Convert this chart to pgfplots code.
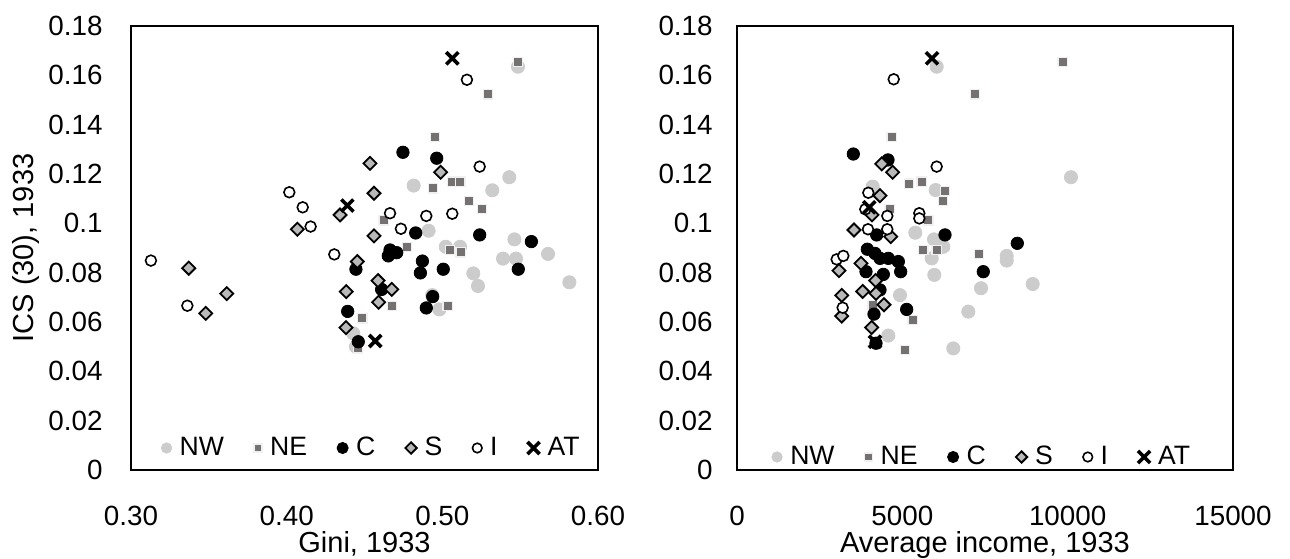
\documentclass[border=0pt]{standalone}
\usepackage{fontspec}
\setmainfont{Liberation Sans}
\usepackage{pgfplots}
\pgfplotsset{compat=1.18}

\definecolor{nwc}{RGB}{204,204,204}
\definecolor{nec}{RGB}{118,113,113}
\definecolor{nee}{RGB}{240,240,240}
\definecolor{sc}{RGB}{185,185,185}

\pgfplotsset{
  nw/.style={only marks, mark=*, mark size=3.3pt, mark options={fill=nwc, draw=nwc},
    legend image post style={mark size=2.6pt}},
  ne/.style={only marks, mark=square*, mark size=2.3pt, mark options={fill=nec, draw=nee, line width=0.6pt},
    legend image post style={mark size=2pt}},
  cc/.style={only marks, mark=*, mark size=3.1pt, mark options={fill=black, draw=black},
    legend image post style={mark size=2.8pt}},
  ss/.style={only marks, mark=square*, mark size=2.3pt, mark options={rotate=45, fill=sc, draw=black, line width=0.9pt},
    legend image post style={mark size=2pt}},
  ii/.style={only marks, mark=*, mark size=2.7pt, mark options={fill=white, draw=black, line width=0.8pt},
    legend image post style={mark size=2.4pt}},
  at/.style={only marks, mark=x, mark size=4.3pt, mark options={draw=black, line width=1.8pt},
    legend image post style={mark size=4.3pt}},
  common/.style={
    scale only axis, height=222pt,
    ymin=0, ymax=0.18,
    ytick={0,0.02,0.04,0.06,0.08,0.1,0.12,0.14,0.16,0.18},
    axis line style={line width=0.8pt},
    tick style={draw=none},
    tick label style={font=\fontsize{13.9}{16}\selectfont},
    label style={font=\fontsize{14.5}{17}\selectfont},
    xticklabel style={anchor=base, inner sep=0pt, yshift=-27.5pt},
    yticklabel style={anchor=east, inner sep=0pt,
      /pgf/number format/fixed, /pgf/number format/precision=2,
      /pgf/number format/assume math mode=true},
    xlabel style={at={(axis description cs:0.5,-0.1847)}, anchor=base},
    legend columns=6,
    legend image code/.code={\draw[##1] plot coordinates {(0pt,0pt)};},
    legend style={draw=none, fill=none, inner sep=0pt,
      font=\fontsize{13.3}{15}\selectfont,
      nodes={inner xsep=4pt, inner ysep=0pt},
      /tikz/every even column/.append style={column sep=11pt}},
  },
}

\begin{document}
\begin{tikzpicture}
\path[use as bounding box] (-65.5pt,-44pt) rectangle (579.5pt,235pt);

\begin{axis}[common,
  width=233.5pt,
  xmin=0.3, xmax=0.6,
  xtick={0.3,0.4,0.5,0.6},
  xticklabel style={/pgf/number format/fixed, /pgf/number format/fixed zerofill,
    /pgf/number format/precision=2, /pgf/number format/assume math mode=true},
  yticklabel style={xshift=-14pt},
  xlabel={Gini, 1933},
  ylabel={ICS (30), 1933},
  ylabel style={at={(axis description cs:-0.2248,0.5)}, anchor=center},
  legend style={at={(axis description cs:0.5,0)}, anchor=center, xshift=5pt, yshift=11pt},
]
\addplot[nw] table {
0.5486 0.1635
0.5430 0.1187
0.4816 0.1153
0.5321 0.1134
0.4912 0.0970
0.5463 0.0935
0.5679 0.0876
0.5390 0.0857
0.5473 0.0857
0.5816 0.0761
0.5199 0.0797
0.5229 0.0746
0.5022 0.0905
0.5114 0.0905
0.4428 0.0554
0.4445 0.0500
0.4981 0.0651
0.4935 0.0709
};
\addlegendentry{NW}
\addplot[ne] table {
0.5486 0.1653
0.5295 0.1523
0.4951 0.1351
0.4940 0.1142
0.5062 0.1169
0.5116 0.1169
0.5171 0.1091
0.5253 0.1057
0.4623 0.1012
0.5049 0.0892
0.5118 0.0882
0.4773 0.0903
0.4675 0.0666
0.4486 0.0615
0.4460 0.0493
0.5034 0.0666
};
\addlegendentry{NE}
\addplot[cc] table {
0.4747 0.1288
0.4964 0.1264
0.4829 0.0961
0.5240 0.0953
0.5572 0.0926
0.5488 0.0814
0.4872 0.0847
0.4859 0.0799
0.5006 0.0814
0.4664 0.0892
0.4707 0.0881
0.4653 0.0868
0.4445 0.0814
0.4610 0.0732
0.4392 0.0643
0.4460 0.0520
0.4938 0.0703
0.4897 0.0657
};
\addlegendentry{C}
\addplot[ss] table {
0.4069 0.0976
0.4343 0.1034
0.4535 0.1243
0.4989 0.1207
0.4561 0.1122
0.4561 0.0949
0.4454 0.0845
0.4587 0.0768
0.4675 0.0732
0.4591 0.0680
0.4383 0.0723
0.4381 0.0577
0.3371 0.0818
0.3480 0.0635
0.3615 0.0715
};
\addlegendentry{S}
\addplot[ii] table {
0.4017 0.1126
0.4103 0.1065
0.4154 0.0987
0.5158 0.1582
0.5240 0.1230
0.4664 0.1041
0.4897 0.1030
0.5064 0.1039
0.4734 0.0978
0.4306 0.0874
0.3128 0.0849
0.3362 0.0666
};
\addlegendentry{I}
\addplot[at] table {
0.5064 0.1669
0.4390 0.1072
0.4569 0.0523
};
\addlegendentry{AT}
\end{axis}

\begin{scope}[xshift=303pt]
\begin{axis}[common,
  width=248pt,
  xmin=0, xmax=15000,
  xtick={0,5000,10000,15000},
  xticklabel style={/pgf/number format/fixed, /pgf/number format/1000 sep={},
    /pgf/number format/assume math mode=true},
  scaled x ticks=false,
  yticklabel style={xshift=-12pt},
  xlabel={Average income, 1933},
  legend style={at={(axis description cs:0.5,0)}, anchor=center, yshift=6.5pt},
]
\addplot[nw] table {
6039 0.1635
10100 0.1187
4103 0.1149
6008 0.1135
5392 0.0962
5957 0.0935
8156 0.0868
5888 0.0858
8156 0.0849
8942 0.0754
5967 0.0791
7379 0.0737
6239 0.0905
6100 0.0900
4576 0.0545
6541 0.0493
6995 0.0642
4929 0.0709
};
\addlegendentry{NW}
\addplot[ne] table {
9849 0.1653
7197 0.1523
4678 0.1351
5201 0.1161
5585 0.1169
6290 0.1132
6229 0.1091
4617 0.1057
5786 0.1012
5634 0.0892
6039 0.0892
7318 0.0876
4103 0.0668
5312 0.0607
5080 0.0486
};
\addlegendentry{NE}
\addplot[cc] table {
3518 0.1281
4566 0.1257
4224 0.0953
6290 0.0953
8477 0.0919
7448 0.0804
3941 0.0895
4173 0.0878
4324 0.0858
4576 0.0858
4879 0.0845
4950 0.0804
3901 0.0804
4425 0.0793
4324 0.0730
5131 0.0651
4143 0.0632
4203 0.0514
};
\addlegendentry{C}
\addplot[ss] table {
4375 0.1241
4708 0.1207
4324 0.1112
4082 0.1034
3538 0.0973
4648 0.0946
3085 0.0808
3750 0.0838
3165 0.0708
3165 0.0624
4193 0.0768
3800 0.0724
4203 0.0716
4445 0.0670
4072 0.0578
};
\addlegendentry{S}
\addplot[ii] table {
4739 0.1584
6039 0.1230
3971 0.1124
3880 0.1057
4545 0.1030
5513 0.1041
5513 0.1020
3961 0.0976
4545 0.0976
3014 0.0854
3215 0.0868
3195 0.0658
};
\addlegendentry{I}
\addplot[at] table {
5897 0.1669
4002 0.1065
4173 0.0520
};
\addlegendentry{AT}
\end{axis}
\end{scope}
\end{tikzpicture}
\end{document}
